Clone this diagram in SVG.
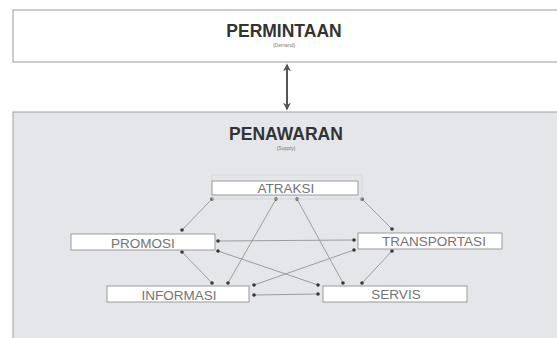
<svg xmlns="http://www.w3.org/2000/svg" width="557" height="338" viewBox="0 0 557 338">
  <style>
    .title { font-family: "Liberation Sans", Arial, sans-serif; font-weight: bold; font-size: 17.5px; fill: #333; text-anchor: middle; }
    .sub { font-family: "Liberation Sans", Arial, sans-serif; font-size: 5px; fill: #777; text-anchor: middle; }
    .box { fill: #ffffff; stroke: #9a9a9a; stroke-width: 1; }
    .frame { fill: none; stroke: #d3d6da; stroke-width: 1; }
    .lbl { font-family: "Liberation Sans", Arial, sans-serif; font-size: 13.5px; fill: #737373; text-anchor: middle; }
    .con { stroke: #9c9c9c; stroke-width: 1; fill: none; }
    .dot { fill: #383838; }
  </style>
  <defs>
    <marker id="ah" viewBox="0 0 10 10" refX="8" refY="5" markerWidth="4" markerHeight="4" orient="auto-start-reverse" markerUnits="strokeWidth">
      <path d="M0,0 L10,5 L0,10 L3,5 z" fill="#555"/>
    </marker>
  </defs>

  <g id="permintaan">
    <rect x="13" y="10" width="560" height="52" fill="#ffffff" stroke="#9a9a9a" stroke-width="1"/>
    <text class="title" x="284" y="37">PERMINTAAN</text>
    <text class="sub" x="284" y="47">(Demand)</text>
  </g>

  <g id="penawaran">
    <rect x="13" y="112" width="560" height="240" fill="#e4e6e9" stroke="#a0a0a0" stroke-width="1"/>
    <text class="title" x="286" y="140">PENAWARAN</text>
    <text class="sub" x="286" y="150">(Supply)</text>
  </g>

  <g id="connectors">
    <line x1="287" y1="65" x2="287" y2="109" stroke="#555" stroke-width="2" marker-start="url(#ah)" marker-end="url(#ah)"/>
    <line class="con" x1="212" y1="199" x2="182" y2="230"/>
    <line class="con" x1="276" y1="199" x2="228" y2="283"/>
    <line class="con" x1="297" y1="199" x2="343" y2="283"/>
    <line class="con" x1="362" y1="199" x2="392" y2="229"/>
    <line class="con" x1="218" y1="241" x2="354" y2="240"/>
    <line class="con" x1="218" y1="251" x2="318" y2="285"/>
    <line class="con" x1="182" y1="252" x2="212" y2="283"/>
    <line class="con" x1="354" y1="250" x2="254" y2="285"/>
    <line class="con" x1="392" y1="251" x2="362" y2="283"/>
    <line class="con" x1="254" y1="295" x2="318" y2="294"/>
    <g>
      <circle class="dot" cx="212" cy="199" r="1.8"/>
      <circle class="dot" cx="276" cy="199" r="1.8"/>
      <circle class="dot" cx="297" cy="199" r="1.8"/>
      <circle class="dot" cx="362" cy="199" r="1.8"/>
      <circle class="dot" cx="182" cy="230" r="1.8"/>
      <circle class="dot" cx="182" cy="252" r="1.8"/>
      <circle class="dot" cx="218" cy="241" r="1.8"/>
      <circle class="dot" cx="218" cy="251" r="1.8"/>
      <circle class="dot" cx="392" cy="229" r="1.8"/>
      <circle class="dot" cx="392" cy="251" r="1.8"/>
      <circle class="dot" cx="354" cy="240" r="1.8"/>
      <circle class="dot" cx="354" cy="250" r="1.8"/>
      <circle class="dot" cx="212" cy="283" r="1.8"/>
      <circle class="dot" cx="228" cy="283" r="1.8"/>
      <circle class="dot" cx="254" cy="285" r="1.8"/>
      <circle class="dot" cx="254" cy="295" r="1.8"/>
      <circle class="dot" cx="318" cy="285" r="1.8"/>
      <circle class="dot" cx="318" cy="294" r="1.8"/>
      <circle class="dot" cx="343" cy="283" r="1.8"/>
      <circle class="dot" cx="362" cy="283" r="1.8"/>
    </g>
  </g>

  <g id="atraksi">
    <rect class="frame" x="212" y="175" width="150" height="24"/>
    <rect class="box" x="212" y="181" width="146" height="14"/>
    <text class="lbl" x="286" y="193">ATRAKSI</text>
  </g>

  <g id="promosi">
    <rect class="box" x="71" y="234" width="144" height="16"/>
    <text class="lbl" x="143" y="248">PROMOSI</text>
  </g>

  <g id="transportasi">
    <rect class="box" x="358" y="233" width="144" height="16"/>
    <text class="lbl" x="434" y="246">TRANSPORTASI</text>
  </g>

  <g id="informasi">
    <rect class="box" x="107" y="286" width="142" height="16"/>
    <text class="lbl" x="179" y="300">INFORMASI</text>
  </g>

  <g id="servis">
    <rect class="box" x="323" y="286" width="144" height="16"/>
    <text class="lbl" x="396" y="299">SERVIS</text>
  </g>
</svg>
